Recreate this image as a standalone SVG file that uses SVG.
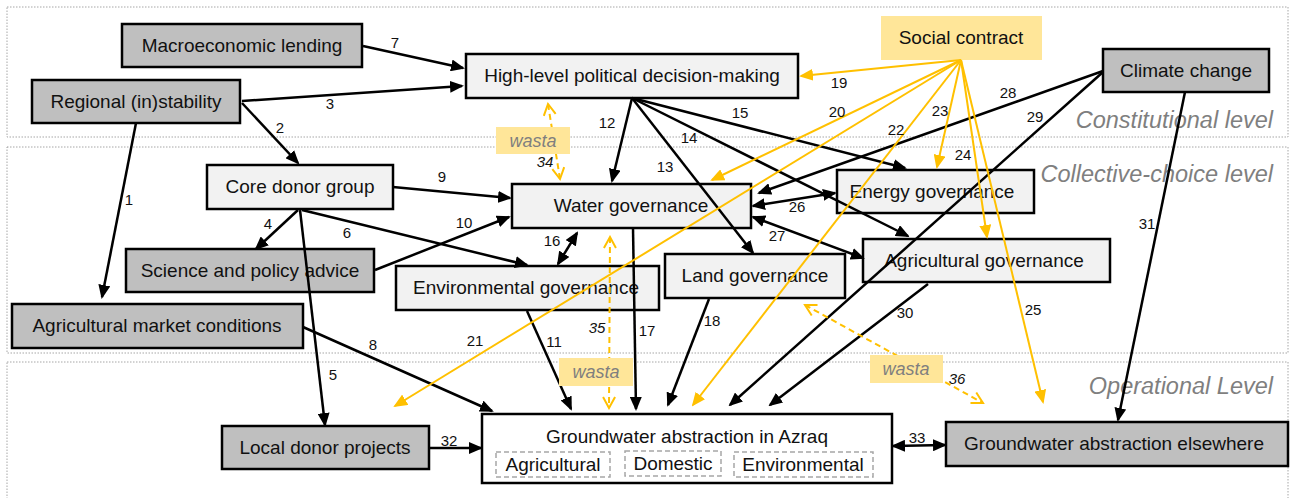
<svg xmlns="http://www.w3.org/2000/svg" width="1290" height="498" viewBox="0 0 1290 498">
<defs>
<style>
.lvl{fill:none;stroke:#a6a6a6;stroke-width:1;stroke-dasharray:1.5,1.5}
.lvt{font-family:"Liberation Sans",Arial,sans-serif;font-style:italic;font-size:23.5px;fill:#7f7f7f;text-anchor:end}
.g rect{fill:#bfbfbf;stroke:#000;stroke-width:2.5}
.l rect{fill:#f2f2f2;stroke:#000;stroke-width:2.5}
.nt{font-family:"Liberation Sans",Arial,sans-serif;font-size:19px;fill:#111;text-anchor:middle}
.sub{fill:#fff;stroke:#a6a6a6;stroke-width:1.5;stroke-dasharray:5,3}
.b{stroke:#000;stroke-width:2.5;fill:none;marker-end:url(#ah)}
.bb{stroke:#000;stroke-width:2.5;fill:none;marker-end:url(#ah);marker-start:url(#ah)}
.y{stroke:#ffc000;stroke-width:2;fill:none;marker-end:url(#ahy)}
.w{stroke:#ffc000;stroke-width:2;fill:none;stroke-dasharray:6,4;marker-end:url(#chev);marker-start:url(#chev)}
.num{font-family:"Liberation Sans",Arial,sans-serif;font-size:15px;fill:#111;text-anchor:middle}
.numi{font-family:"Liberation Sans",Arial,sans-serif;font-size:15px;font-style:italic;fill:#111;text-anchor:middle}
.wb{fill:#ffe699}
.wt{font-family:"Liberation Sans",Arial,sans-serif;font-size:18px;font-style:italic;fill:#7f7f7f;text-anchor:middle}
</style>
<marker id="ah" viewBox="0 0 14 12" refX="12" refY="6" markerWidth="14" markerHeight="12" markerUnits="userSpaceOnUse" orient="auto-start-reverse"><path d="M0,0 L14,6 L0,12 z" fill="#000"/></marker>
<marker id="ahy" viewBox="0 0 14 12" refX="12" refY="6" markerWidth="14" markerHeight="12" markerUnits="userSpaceOnUse" orient="auto-start-reverse"><path d="M0,0 L14,6 L0,12 z" fill="#ffc000"/></marker>
<marker id="chev" viewBox="0 0 14 14" refX="12" refY="7" markerWidth="14" markerHeight="14" markerUnits="userSpaceOnUse" orient="auto-start-reverse"><path d="M1,1 L12,7 L1,13" fill="none" stroke="#ffc000" stroke-width="2"/></marker>
</defs>
<rect width="1290" height="498" fill="#fff"/>

<g id="levels">
<rect class="lvl" x="7" y="7" width="1281" height="130"/>
<rect class="lvl" x="7" y="147" width="1281" height="206"/>
<rect class="lvl" x="7" y="362" width="1281" height="145"/>
<text class="lvt" x="1273" y="128">Constitutional level</text>
<text class="lvt" x="1273" y="182">Collective-choice level</text>
<text class="lvt" x="1273" y="394">Operational Level</text>
</g>

<g id="node-macro" class="g"><rect x="122" y="24" width="240" height="43"/><text class="nt" x="242" y="52">Macroeconomic lending</text></g>
<g id="node-regional" class="g"><rect x="32" y="80" width="208" height="43"/><text class="nt" x="136" y="108">Regional (in)stability</text></g>
<g id="node-highlevel" class="l"><rect x="466" y="54" width="332" height="44"/><text class="nt" x="632" y="82">High-level political decision-making</text></g>
<g id="node-social"><rect x="881" y="16" width="161" height="44" fill="#ffe699"/><text class="nt" x="961" y="44">Social contract</text></g>
<g id="node-climate" class="g"><rect x="1103" y="49" width="166" height="43"/><text class="nt" x="1186" y="77">Climate change</text></g>
<g id="node-core" class="l"><rect x="207" y="165" width="186" height="44"/><text class="nt" x="300" y="193">Core donor group</text></g>
<g id="node-science" class="g"><rect x="126" y="249" width="248" height="43"/><text class="nt" x="250" y="277">Science and policy advice</text></g>
<g id="node-market" class="g"><rect x="12" y="304" width="291" height="44"/><text class="nt" x="157" y="332">Agricultural market conditions</text></g>
<g id="node-water" class="l"><rect x="512" y="184" width="239" height="44"/><text class="nt" x="631" y="212">Water governance</text></g>
<g id="node-env" class="l"><rect x="396" y="266" width="263" height="44"/><text class="nt" x="526" y="294">Environmental governance</text></g>
<g id="node-land" class="l"><rect x="665" y="254" width="180" height="44"/><text class="nt" x="755" y="282">Land governance</text></g>
<g id="node-energy" class="l"><rect x="837" y="170" width="197" height="43"/><text class="nt" x="932" y="198">Energy governance</text></g>
<g id="node-agri" class="l"><rect x="863" y="239" width="247" height="43"/><text class="nt" x="984" y="267">Agricultural governance</text></g>
<g id="node-local" class="g"><rect x="222" y="426" width="207" height="43"/><text class="nt" x="325" y="454">Local donor projects</text></g>
<g id="node-azraq">
<rect x="482" y="414" width="410" height="69" fill="#fff" stroke="#000" stroke-width="2.5"/>
<text class="nt" x="687" y="443">Groundwater abstraction in Azraq</text>
<rect class="sub" x="496" y="452" width="114" height="25"/><text class="nt" x="553" y="471">Agricultural</text>
<rect class="sub" x="625" y="451" width="96" height="25"/><text class="nt" x="673" y="470">Domestic</text>
<rect class="sub" x="734" y="452" width="139" height="25"/><text class="nt" x="803" y="471">Environmental</text>
</g>
<g id="node-elsewhere" class="g"><rect x="946" y="422" width="342" height="44"/><text class="nt" x="1114" y="450">Groundwater abstraction elsewhere</text></g>

<g id="connectors">
<line class="b" x1="136" y1="123" x2="102" y2="297"/>
<line class="b" x1="242" y1="103" x2="298" y2="163"/>
<line class="b" x1="242" y1="101" x2="462" y2="86"/>
<line class="b" x1="363" y1="46" x2="463" y2="68"/>
<line class="b" x1="298" y1="210" x2="256" y2="249"/>
<line class="b" x1="300" y1="210" x2="325" y2="425"/>
<line class="b" x1="302" y1="210" x2="527" y2="265"/>
<line class="b" x1="303" y1="327" x2="492" y2="411"/>
<line class="b" x1="393" y1="187" x2="510" y2="198"/>
<line class="b" x1="375" y1="270" x2="509" y2="217"/>
<line class="b" x1="527" y1="311" x2="571" y2="409"/>
<line class="b" x1="632" y1="98" x2="612" y2="181"/>
<line class="b" x1="632" y1="98" x2="753" y2="253"/>
<line class="b" x1="632" y1="98" x2="908" y2="236"/>
<line class="b" x1="632" y1="98" x2="905" y2="168"/>
<line class="bb" x1="577" y1="233" x2="558" y2="264"/>
<line class="b" x1="633" y1="228" x2="636" y2="409"/>
<line class="b" x1="709" y1="299" x2="668" y2="405"/>
<line class="bb" x1="753" y1="206" x2="835" y2="193"/>
<line class="bb" x1="753" y1="217" x2="863" y2="258"/>
<line class="b" x1="1103" y1="71" x2="759" y2="193"/>
<line class="b" x1="1103" y1="72" x2="730" y2="405"/>
<line class="b" x1="928" y1="284" x2="770" y2="405"/>
<line class="b" x1="1185" y1="92" x2="1118" y2="420"/>
<line class="b" x1="429" y1="448" x2="481" y2="448"/>
<line class="bb" x1="893" y1="446" x2="945" y2="445"/>

<line class="y" x1="961" y1="60" x2="801" y2="76"/>
<line class="y" x1="961" y1="60" x2="712" y2="180"/>
<line class="y" x1="961" y1="60" x2="395" y2="406"/>
<line class="y" x1="961" y1="60" x2="693" y2="405"/>
<line class="y" x1="961" y1="60" x2="937" y2="167"/>
<line class="y" x1="961" y1="60" x2="987" y2="237"/>
<line class="y" x1="961" y1="60" x2="1043" y2="402"/>

<line class="w" x1="548" y1="104" x2="560" y2="179"/>
<line class="w" x1="610" y1="237" x2="609" y2="408"/>
<line class="w" x1="805" y1="305" x2="983" y2="403"/>
<rect class="wb" x="496" y="127" width="74" height="27"/><text class="wt" x="533" y="147">wasta</text>
<rect class="wb" x="559" y="358" width="74" height="28"/><text class="wt" x="596" y="378">wasta</text>
<rect class="wb" x="870" y="355" width="73" height="28"/><text class="wt" x="906" y="375">wasta</text>

<text class="num" x="129" y="205">1</text>
<text class="num" x="280" y="133">2</text>
<text class="num" x="330" y="109">3</text>
<text class="num" x="268" y="229">4</text>
<text class="num" x="333" y="380">5</text>
<text class="num" x="347" y="238">6</text>
<text class="num" x="395" y="48">7</text>
<text class="num" x="373" y="350">8</text>
<text class="num" x="442" y="182">9</text>
<text class="num" x="464" y="228">10</text>
<text class="num" x="554" y="347">11</text>
<text class="num" x="607" y="128">12</text>
<text class="num" x="665" y="172">13</text>
<text class="num" x="689" y="143">14</text>
<text class="num" x="740" y="118">15</text>
<text class="num" x="552" y="246">16</text>
<text class="num" x="647" y="336">17</text>
<text class="num" x="712" y="326">18</text>
<text class="num" x="839" y="88">19</text>
<text class="num" x="837" y="117">20</text>
<text class="num" x="475" y="346">21</text>
<text class="num" x="896" y="135">22</text>
<text class="num" x="940" y="116">23</text>
<text class="num" x="963" y="160">24</text>
<text class="num" x="1033" y="315">25</text>
<text class="num" x="797" y="212">26</text>
<text class="num" x="777" y="241">27</text>
<text class="num" x="1008" y="98">28</text>
<text class="num" x="1035" y="122">29</text>
<text class="num" x="905" y="318">30</text>
<text class="num" x="1147" y="229">31</text>
<text class="num" x="449" y="446">32</text>
<text class="num" x="917" y="443">33</text>
<text class="numi" x="545" y="167">34</text>
<text class="numi" x="597" y="333">35</text>
<text class="numi" x="957" y="384">36</text>
</g>
</svg>
